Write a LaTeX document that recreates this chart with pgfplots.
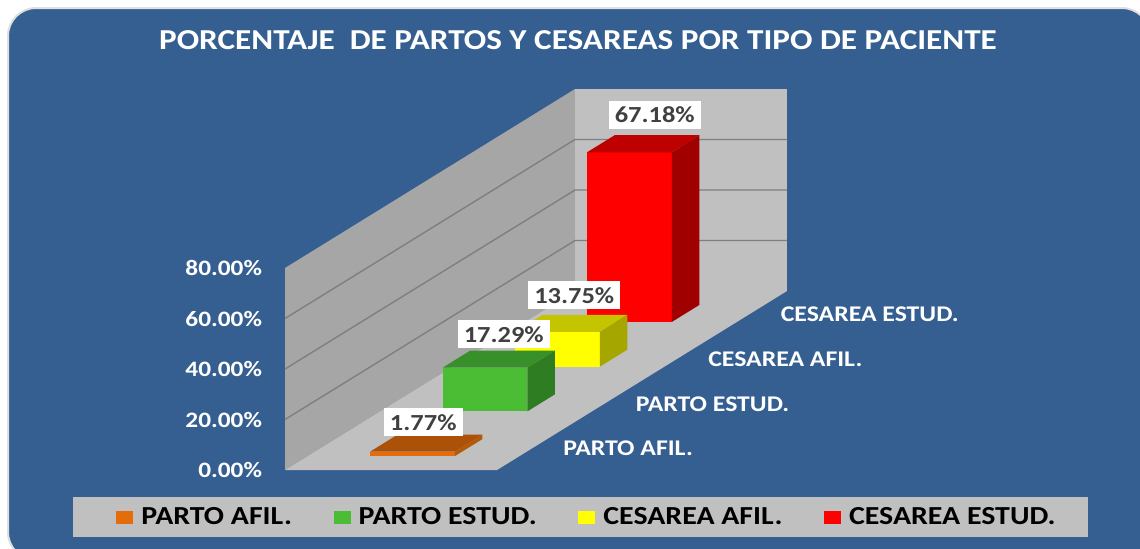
\documentclass[border=0pt]{standalone}
\usepackage{fontspec}
\setmainfont{Carlito}[FakeStretch=1.15]
\usepackage{pgfplots}
\pgfplotsset{compat=1.18}
\definecolor{panel}{HTML}{365F91}
\definecolor{wallL}{HTML}{A6A6A6}
\definecolor{wallB}{HTML}{C0C0C0}
\definecolor{gridc}{HTML}{7F7F7F}
\definecolor{labc}{HTML}{404040}
\definecolor{oF}{HTML}{E46C0A}\definecolor{oT}{HTML}{AB5108}\definecolor{oS}{HTML}{B35A0A}
\definecolor{gF}{HTML}{4BBD35}\definecolor{gT}{HTML}{38902A}\definecolor{gS}{HTML}{2E7D22}
\definecolor{yF}{HTML}{FFFF00}\definecolor{yT}{HTML}{C4C400}\definecolor{yS}{HTML}{A6A600}
\definecolor{rF}{HTML}{FF0000}\definecolor{rT}{HTML}{BF0000}\definecolor{rS}{HTML}{A00000}
\pgfplotsset{
  face/.style={forget plot,draw=none,mark=none,fill=#1},
  gl/.style={forget plot,draw=gridc,line width=0.7pt,mark=none},
  vlabel/.style 2 args={forget plot,draw=none,mark=none,point meta=explicit symbolic,nodes near coords,
    every node near coord/.append style={anchor=center,fill=white,text=labc,font=\fontsize{11.5}{14}\bfseries,
      inner xsep=3pt,inner ysep=0pt,minimum height=14pt,xshift=#1,yshift=#2}},
}
\begin{document}
\begin{tikzpicture}
\path[use as bounding box] (0pt,0pt) rectangle (570pt,-274pt);
\fill[white] (0pt,0pt) rectangle (570pt,-274pt);
\draw[draw=gray!25,fill=panel,line width=1pt,rounded corners=14pt] (4pt,-4pt) rectangle (575pt,-280pt);
\node[text=white,font=\fontsize{14.43}{16}\bfseries] at (289pt,-20pt) {PORCENTAJE\ \ DE PARTOS Y CESAREAS POR TIPO DE PACIENTE};
\begin{axis}[
  at={(142.5pt,-235pt)},anchor=origin,
  x={(106pt,0pt)},y={(36.25pt,22.375pt)},z={(0pt,1.2625pt)},
  xmin=0,xmax=1,ymin=0,ymax=4,zmin=0,zmax=80,
  clip=false,
  axis line style={draw=none},
  tick style={draw=none},
  xtick=\empty,
  ytick={0.5,1.5,2.5,3.5},
  yticklabels={PARTO AFIL.,PARTO ESTUD.,CESAREA AFIL.,CESAREA ESTUD.},
  yticklabel style={anchor=west,text=white,font=\fontsize{11.2}{12}\bfseries,xshift=11.5pt,yshift=-0.5pt},
  ztick={0,20,40,60,80},
  zticklabels={0.00\%,20.00\%,40.00\%,60.00\%,80.00\%},
  zticklabel style={anchor=east,text=white,font=\fontsize{11}{13}\bfseries,xshift=-8pt},
  legend columns=-1,
  legend style={at={(rel axis cs:0,0,0)},anchor=north west,xshift=-106pt,yshift=-13.5pt,
    fill=wallB,draw=none,font=\fontsize{13}{14}\bfseries,text=black,
    inner xsep=14pt,inner ysep=3pt,
    /tikz/every even column/.append style={column sep=11.3pt},
    /tikz/every odd column/.append style={column sep=2pt},
    cells={anchor=west}},
  legend image code/.code={\path (0pt,0pt); \fill[#1] (7.5pt,-3.25pt) rectangle (16pt,3.25pt);},
]
% walls and floor
\addplot3[face=wallL] coordinates {(0,0,0) (0,4,0) (0,4,80) (0,0,80)};
\addplot3[face=wallB] coordinates {(0,4,0) (1,4,0) (1,4,80) (0,4,80)};
\addplot3[face=wallB] coordinates {(0,0,0) (1,0,0) (1,4,0) (0,4,0)};
% grid lines
\addplot3[gl] coordinates {(0,0,20) (0,4,20) (1,4,20)};
\addplot3[gl] coordinates {(0,0,40) (0,4,40) (1,4,40)};
\addplot3[gl] coordinates {(0,0,60) (0,4,60) (1,4,60)};
% bars, back to front
\addplot3[face=rF] coordinates {(0.293,3.31,0) (0.693,3.31,0) (0.693,3.31,67.18) (0.293,3.31,67.18)};
\addplot3[face=rT] coordinates {(0.293,3.31,67.18) (0.693,3.31,67.18) (0.693,3.69,67.18) (0.293,3.69,67.18)};
\addplot3[face=rS] coordinates {(0.693,3.31,0) (0.693,3.69,0) (0.693,3.69,67.18) (0.693,3.31,67.18)};
\addplot3[face=yF] coordinates {(0.295,2.31,0) (0.695,2.31,0) (0.695,2.31,13.75) (0.295,2.31,13.75)};
\addplot3[face=yT] coordinates {(0.295,2.31,13.75) (0.695,2.31,13.75) (0.695,2.69,13.75) (0.295,2.69,13.75)};
\addplot3[face=yS] coordinates {(0.695,2.31,0) (0.695,2.69,0) (0.695,2.69,13.75) (0.695,2.31,13.75)};
\addplot3[face=gF] coordinates {(0.295,1.31,0) (0.695,1.31,0) (0.695,1.31,17.29) (0.295,1.31,17.29)};
\addplot3[face=gT] coordinates {(0.295,1.31,17.29) (0.695,1.31,17.29) (0.695,1.69,17.29) (0.295,1.69,17.29)};
\addplot3[face=gS] coordinates {(0.695,1.31,0) (0.695,1.69,0) (0.695,1.69,17.29) (0.695,1.31,17.29)};
\addplot3[face=oF] coordinates {(0.295,0.31,0) (0.695,0.31,0) (0.695,0.31,1.77) (0.295,0.31,1.77)};
\addplot3[face=oT] coordinates {(0.295,0.31,1.77) (0.695,0.31,1.77) (0.695,0.69,1.77) (0.295,0.69,1.77)};
\addplot3[face=oS] coordinates {(0.695,0.31,0) (0.695,0.69,0) (0.695,0.69,1.77) (0.695,0.31,1.77)};
% value labels
\addplot3[vlabel={5pt}{14.5pt}] coordinates {(0.5,3.5,67.18) [67.18\%]};
\addplot3[vlabel={1pt}{14pt}] coordinates {(0.5,2.5,13.75) [13.75\%]};
\addplot3[vlabel={2pt}{12.5pt}] coordinates {(0.5,1.5,17.29) [17.29\%]};
\addplot3[vlabel={-2pt}{10.5pt}] coordinates {(0.5,0.5,1.77) [1.77\%]};
% legend
\addlegendimage{fill=oF,draw=none}
\addlegendimage{fill=gF,draw=none}
\addlegendimage{fill=yF,draw=none}
\addlegendimage{fill=rF,draw=none}
\legend{PARTO AFIL.,PARTO ESTUD.,CESAREA AFIL.,CESAREA ESTUD.}
\end{axis}
\end{tikzpicture}
\end{document}
